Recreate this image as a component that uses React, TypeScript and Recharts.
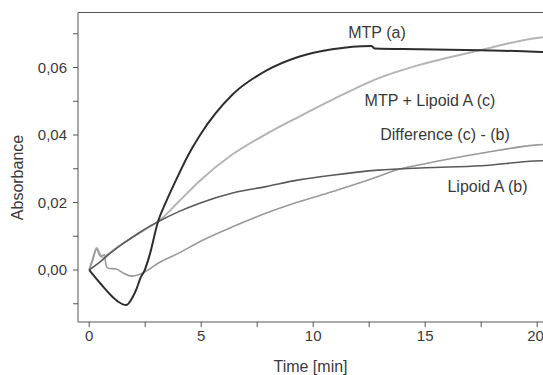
import React from 'react';
import { LineChart, Line, XAxis, YAxis, ReferenceLine } from 'recharts';

// MTP (a)
const mtpTime = [0, 0.5, 1.0, 1.3, 1.65, 1.9, 2.1, 2.3, 2.48, 2.7, 3.07, 3.45, 3.88, 4.4, 4.93, 6.4, 7.88, 9.36, 10.84, 12.6, 12.75, 14.8, 17.5, 19.9, 20.26];
const mtpValue = [0, -0.004, -0.0077, -0.0094, -0.0104, -0.0085, -0.0058, -0.0022, 0, 0.0045, 0.0143, 0.0205, 0.0267, 0.0338, 0.0398, 0.052, 0.059, 0.0632, 0.0654, 0.0664, 0.0656, 0.0654, 0.0651, 0.0647, 0.0646];

// Lipoid A (b)
const lipTime = [0, 0.5, 1.0, 1.5, 2.0, 2.5, 3.07, 4.0, 4.93, 6.4, 7.88, 9.36, 10.84, 12.9, 15, 17.5, 19.9, 20.26];
const lipValue = [0, 0.0025, 0.0053, 0.0078, 0.01, 0.0122, 0.0143, 0.0173, 0.0198, 0.0228, 0.0247, 0.0267, 0.0281, 0.0296, 0.0303, 0.0309, 0.0323, 0.0324];

// MTP + Lipoid A (c)
const sumTime = [0, 0.15, 0.33, 0.5, 0.62, 0.8, 1.0, 1.5, 2.0, 2.5, 3.07, 4.0, 4.93, 6.4, 7.88, 9.36, 10.84, 12.9, 14.55, 17.5, 19.9, 20.26];
const sumValue = [0, 0.003, 0.0065, 0.0045, 0.0036, 0.0045, 0.0055, 0.0078, 0.01, 0.012, 0.0143, 0.0203, 0.0264, 0.0343, 0.0402, 0.0454, 0.0504, 0.0568, 0.0604, 0.0652, 0.0687, 0.069];

// Difference (c) - (b)
const diffTime = [0, 0.15, 0.33, 0.5, 0.68, 0.75, 0.85, 1.2, 1.5, 1.9, 2.3, 2.7, 3.07, 4.0, 4.93, 6.4, 7.88, 9.36, 10.84, 12.9, 13.5, 15, 17.5, 19.9, 20.26];
const diffValue = [0, 0.003, 0.0062, 0.004, 0.0045, 0.0015, 0.0005, 0.0003, -0.0008, -0.0018, -0.0012, 0.0003, 0.002, 0.005, 0.0084, 0.0128, 0.0168, 0.0202, 0.0232, 0.0277, 0.0292, 0.0315, 0.0346, 0.037, 0.0372];

const xTicks = [0, 2.5, 5, 7.5, 10, 12.5, 15, 17.5, 20];
const yTicks = [-0.01, 0, 0.01, 0.02, 0.03, 0.04, 0.05, 0.06, 0.07];
const X_DOMAIN: [number, number] = [-0.5, 20.26];
const Y_DOMAIN: [number, number] = [-0.0154, 0.0763];

const toRows = (t: number[], v: number[]) => t.map((x, i) => ({ t: x, v: v[i] }));

const FONT = '"Liberation Sans", Arial, sans-serif';
const TEXT = '#3a3a3a';
const AXIS = '#555';

export default function App() {
  return (
    <div style={{ position: 'absolute', left: 0, top: 0, width: 543, height: 375, background: '#fff' }}>
      <LineChart width={543} height={375} margin={{ top: 12.5, right: 0, bottom: 0, left: 0 }}>
        <XAxis
          type="number"
          dataKey="t"
          domain={X_DOMAIN}
          ticks={xTicks}
          allowDataOverflow
          height={53}
          stroke={AXIS}
          tickSize={5}
          tickMargin={3}
          tick={{ fill: TEXT, fontSize: 15, fontFamily: FONT }}
          tickFormatter={(v: number) => (v % 5 === 0 ? String(v) : '')}
          label={{ value: 'Time [min]', position: 'insideBottom', offset: 3.5, fill: TEXT, fontSize: 16, fontFamily: FONT }}
        />
        <YAxis
          type="number"
          dataKey="v"
          domain={Y_DOMAIN}
          ticks={yTicks}
          allowDataOverflow
          width={78}
          stroke={AXIS}
          tickSize={5}
          tickMargin={6}
          tick={{ fill: TEXT, fontSize: 15, fontFamily: FONT }}
          tickFormatter={(v: number) => {
            const k = Math.round(v * 100);
            return k >= 0 && k % 2 === 0 ? v.toFixed(2).replace('.', ',') : '';
          }}
          label={{
            content: () => (
              <text x={17.5} y={177.5} transform="rotate(-90 17.5 177.5)" textAnchor="middle" dominantBaseline="central" fill={TEXT} fontSize={16} fontFamily={FONT}>
                Absorbance
              </text>
            ),
          }}
        />
        <ReferenceLine y={Y_DOMAIN[1]} stroke={AXIS} strokeWidth={1} ifOverflow="extendDomain" />
        <Line data={toRows(sumTime, sumValue)} dataKey="v" type="monotone" stroke="#b4b4b4" strokeWidth={2} dot={false} isAnimationActive={false} />
        <Line data={toRows(diffTime, diffValue)} dataKey="v" type="monotone" stroke="#9a9a9a" strokeWidth={1.6} dot={false} isAnimationActive={false} />
        <Line data={toRows(lipTime, lipValue)} dataKey="v" type="monotone" stroke="#5a5a5a" strokeWidth={1.6} dot={false} isAnimationActive={false} />
        <Line data={toRows(mtpTime, mtpValue)} dataKey="v" type="monotone" stroke="#2e2e2e" strokeWidth={2} dot={false} isAnimationActive={false} />
        <text x={377} y={37.7} textAnchor="middle" fill={TEXT} fontSize={16} fontFamily={FONT}>MTP (a)</text>
        <text x={430} y={105.7} textAnchor="middle" fill={TEXT} fontSize={16} fontFamily={FONT}>MTP + Lipoid A (c)</text>
        <text x={445} y={140} textAnchor="middle" fill={TEXT} fontSize={16} fontFamily={FONT}>Difference (c) - (b)</text>
        <text x={487.5} y={191.7} textAnchor="middle" fill={TEXT} fontSize={16} fontFamily={FONT}>Lipoid A (b)</text>
      </LineChart>
    </div>
  );
}
